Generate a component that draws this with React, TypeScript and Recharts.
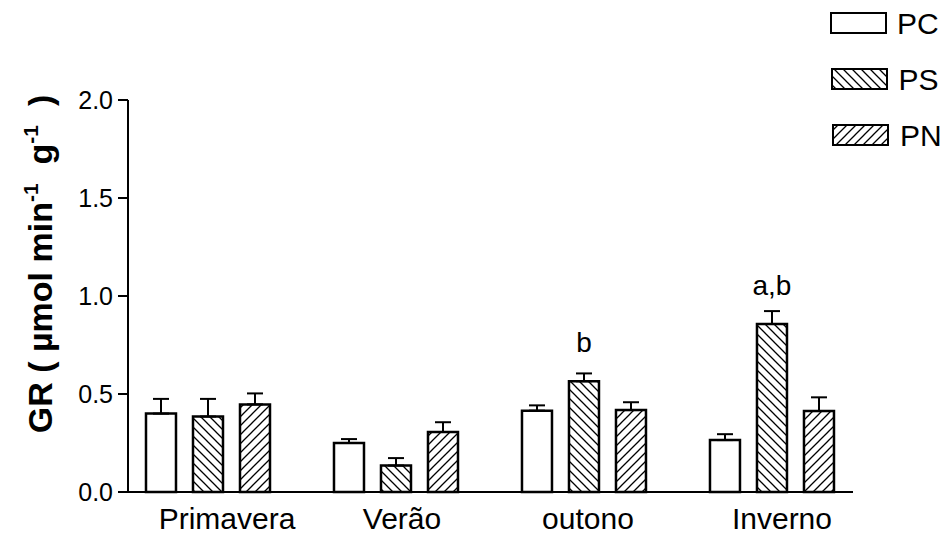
import React from 'react';
import { BarChart, Bar, XAxis, YAxis, ErrorBar, LabelList, Legend } from 'recharts';

// Seasons on the x axis
const seasons = ['Primavera', 'Verão', 'outono', 'Inverno'];

// GR activity (µmol min-1 g-1) and standard errors per group
const pcValues = [0.4, 0.25, 0.415, 0.265];
const pcErrors = [0.075, 0.02, 0.027, 0.03];
const psValues = [0.385, 0.135, 0.565, 0.857];
const psErrors = [0.09, 0.038, 0.04, 0.066];
const pnValues = [0.447, 0.306, 0.418, 0.413];
const pnErrors = [0.056, 0.05, 0.04, 0.07];

// Significance letters over the PS bars
const psMarks = ['', '', 'b', 'a,b'];

const yTicks = [0, 0.5, 1.0, 1.5, 2.0];
const xTicks = [0, 1, 2, 3];

const FONT = 'Arial, "Liberation Sans", Helvetica, sans-serif';

const data = seasons.map((season, i) => ({
  pos: i,
  season,
  PC: pcValues[i],
  PCerr: [0, pcErrors[i]],
  PS: psValues[i],
  PSerr: [0, psErrors[i]],
  PN: pnValues[i],
  PNerr: [0, pnErrors[i]],
  mark: psMarks[i],
}));

// small horizontal nudges of the season labels
const labelNudge = [19, 6, 4, 10];

const SeasonTick = (props: any) => {
  const { x, y, payload } = props;
  const i = Math.round(payload.value);
  return (
    <text
      x={x + (labelNudge[i] || 0)}
      y={y}
      dy="0.71em"
      textAnchor="middle"
      fontSize={30}
      fontFamily={FONT}
      fill="#000"
    >
      {seasons[i]}
    </text>
  );
};

const MarkLabel = (props: any) => {
  const { x, y, width, value } = props;
  if (!value) return null;
  return (
    <text
      x={x + width / 2}
      y={y - 29}
      textAnchor="middle"
      fontSize={28}
      fontFamily={FONT}
      fill="#000"
    >
      {value}
    </text>
  );
};

const YTitle = () => (
  <text
    transform="translate(52, 264) rotate(-90)"
    textAnchor="middle"
    fontSize={34}
    fontWeight="bold"
    fontFamily={FONT}
    fill="#000"
    style={{ whiteSpace: 'pre' }}
  >
    <tspan>{'GR ( \u00b5mol min'}</tspan>
    <tspan dy={-14} fontSize={21}>-1</tspan>
    <tspan dy={14}>{'  g'}</tspan>
    <tspan dy={-14} fontSize={21}>-1</tspan>
    <tspan dy={14}>{'  )'}</tspan>
  </text>
);

const legendRows = [
  { key: 'PC', fill: '#ffffff' },
  { key: 'PS', fill: 'url(#hatchBack)' },
  { key: 'PN', fill: 'url(#hatchFwd)' },
];

const LegendBox = () => (
  <div style={{ position: 'relative', height: 0 }}>
    <svg
      width={947}
      height={160}
      style={{ position: 'absolute', left: 0, top: 0, overflow: 'visible' }}
    >
      {legendRows.map((r, i) => (
        <g key={r.key}>
          <rect
            x={831 + i}
            y={13 + i * 56}
            width={55}
            height={20}
            fill={r.fill}
            stroke="#000"
            strokeWidth={2}
          />
          <text
            x={897 + i * 1.5}
            y={34 + i * 56}
            fontSize={30}
            fontFamily={FONT}
            fill="#000"
          >
            {r.key}
          </text>
        </g>
      ))}
    </svg>
  </div>
);

export default function App() {
  return (
    <div
      style={{
        position: 'absolute',
        left: 0,
        top: 0,
        width: 947,
        height: 536,
        background: '#fff',
        fontFamily: FONT,
      }}
    >
      <svg width={0} height={0} style={{ position: 'absolute' }}>
        <defs>
          <pattern id="hatchBack" patternUnits="userSpaceOnUse" width={9} height={9}>
            <path
              d="M0,0 L9,9 M-3,6 L3,12 M6,-3 L12,3"
              stroke="#000"
              strokeWidth={1.3}
            />
          </pattern>
          <pattern id="hatchFwd" patternUnits="userSpaceOnUse" width={9} height={9}>
            <path
              d="M0,9 L9,0 M-3,3 L3,-3 M6,12 L12,6"
              stroke="#000"
              strokeWidth={1.3}
            />
          </pattern>
        </defs>
      </svg>
      <BarChart
        width={947}
        height={536}
        data={data}
        margin={{ top: 100, right: 94, bottom: 0, left: 0 }}
        barGap={17}
      >
        <XAxis
          type="number"
          dataKey="pos"
          domain={[-0.4255, 3.431]}
          ticks={xTicks}
          interval={0}
          allowDataOverflow
          height={44}
          tickLine={false}
          tickSize={0}
          tickMargin={16}
          tick={<SeasonTick />}
          axisLine={{ stroke: '#000', strokeWidth: 2 }}
        />
        <YAxis
          type="number"
          domain={[0, 2]}
          ticks={yTicks}
          interval={0}
          width={128}
          tickSize={10}
          tickMargin={5}
          tickFormatter={(v: number) => v.toFixed(1)}
          tick={{ fill: '#000', fontSize: 25, fontFamily: FONT }}
          tickLine={{ stroke: '#000', strokeWidth: 2 }}
          axisLine={{ stroke: '#000', strokeWidth: 2 }}
          label={<YTitle />}
        />
        <Legend verticalAlign="top" content={<LegendBox />} wrapperStyle={{ left: 0, top: 0, width: 947 }} />
        <Bar dataKey="PC" name="PC" fill="#ffffff" stroke="#000" strokeWidth={2.5} barSize={30} isAnimationActive={false}>
          <ErrorBar dataKey="PCerr" direction="y" width={8} stroke="#000" strokeWidth={2} />
        </Bar>
        <Bar dataKey="PS" name="PS" fill="url(#hatchBack)" stroke="#000" strokeWidth={2.5} barSize={30} isAnimationActive={false}>
          <ErrorBar dataKey="PSerr" direction="y" width={8} stroke="#000" strokeWidth={2} />
          <LabelList dataKey="mark" content={<MarkLabel />} />
        </Bar>
        <Bar dataKey="PN" name="PN" fill="url(#hatchFwd)" stroke="#000" strokeWidth={2.5} barSize={30} isAnimationActive={false}>
          <ErrorBar dataKey="PNerr" direction="y" width={8} stroke="#000" strokeWidth={2} />
        </Bar>
      </BarChart>
    </div>
  );
}
